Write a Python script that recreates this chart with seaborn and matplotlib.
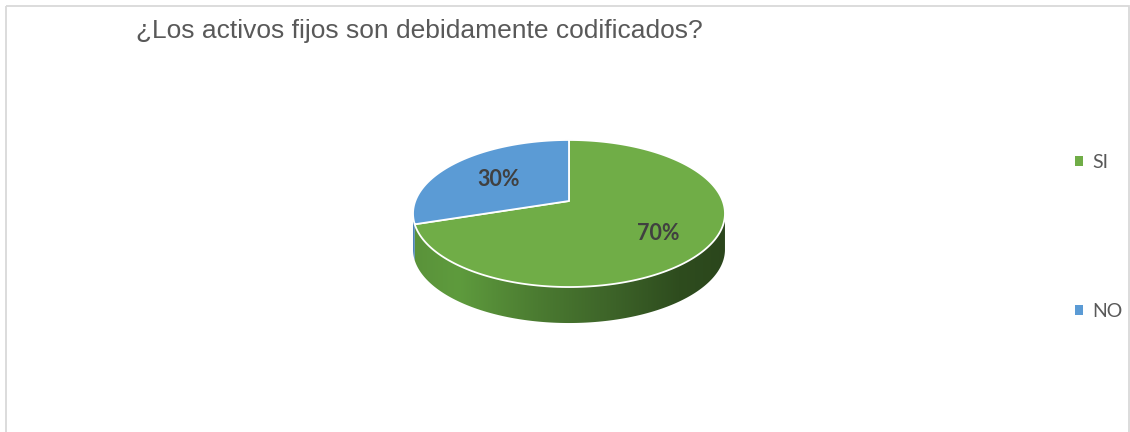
import numpy as np
import matplotlib
matplotlib.use("Agg")
import matplotlib.pyplot as plt
from matplotlib.patches import Polygon, Rectangle, Patch
from matplotlib.colors import LinearSegmentedColormap
import seaborn as sns

# ---- data ----
categories = ["SI", "NO"]
values = [70, 30]
title = "¿Los activos fijos son debidamente codificados?"

sns.set_theme(style="white")
plt.rcParams["font.family"] = ["Lato", "DejaVu Sans"]

top_colors = ["#70AD47", "#5B9BD5"]
side_cmaps = [
    LinearSegmentedColormap.from_list(
        "side_green",
        [(0.0, "#5a923a"), (0.15, "#5e9b3d"), (0.40, "#4b7b31"),
         (0.65, "#3c6228"), (0.85, "#2e4c1e"), (1.0, "#2b461c")]),
    LinearSegmentedColormap.from_list(
        "side_blue", [(0.0, "#4a82b8"), (1.0, "#2f5a85")]),
]

W, H = 1130, 432
fig = plt.figure(figsize=(W / 100, H / 100), dpi=100)
ax = fig.add_axes([0, 0, 1, 1])
ax.set_xlim(0, W)
ax.set_ylim(H, 0)
ax.axis("off")

# ---- 3-D pie geometry (perspective-projected disc) ----
CX, CY = 569, 201        # centre of the top face on screen
A, B = 153.7, 71.4       # horizontal / vertical radii
P = 0.17                 # perspective strength
DEPTH = 36               # thickness of the slab


def proj(X, Y, drop=0.0):
    w = 1 + P * Y
    return CX + A * X / w, CY - B * Y / w + drop


def arc(t0, t1, drop=0.0, n=200):
    t = np.radians(np.linspace(t0, t1, n))
    return np.column_stack(proj(np.cos(t), np.sin(t), drop))


# silhouette limits of the projected disc (left- and right-most points)
T_LEFT = 180 + np.degrees(np.arcsin(P))
T_RIGHT = 360 - np.degrees(np.arcsin(P))

total = float(sum(values))
bounds = []
start = 90.0
for v in values:
    end = start - v / total * 360.0   # clockwise from 12 o'clock
    bounds.append((end, start))
    start = end

# side walls (visible front part of the disc only)
for (lo, hi), cmap in zip(bounds, side_cmaps):
    for k in (-1, 0, 1):
        s = max(lo + 360 * k, T_LEFT)
        e = min(hi + 360 * k, T_RIGHT)
        if e <= s:
            continue
        top_edge = arc(s, e)
        bot_edge = arc(e, s, drop=DEPTH)
        poly = Polygon(np.vstack([top_edge, bot_edge]), closed=True,
                       facecolor="none", edgecolor="none")
        ax.add_patch(poly)
        grad = np.linspace(0, 1, 256).reshape(1, -1)
        im = ax.imshow(grad, cmap=cmap, aspect="auto",
                       extent=(CX - A - 4, CX + A + 4, CY + B + DEPTH + 20, CY - B - 20),
                       interpolation="bilinear", zorder=2)
        im.set_clip_path(poly)

# top faces
for (lo, hi), col in zip(bounds, top_colors):
    pts = np.vstack([[CX, CY], arc(lo, hi)])
    ax.add_patch(Polygon(pts, closed=True, facecolor=col, edgecolor="white",
                         linewidth=1.3, joinstyle="round", zorder=3))

# percentage labels
LABEL_FRAC = 0.64
for (lo, hi), v in zip(bounds, values):
    mid = np.radians((lo + hi) / 2)
    lx, ly = proj(LABEL_FRAC * np.cos(mid), LABEL_FRAC * np.sin(mid))
    ax.text(lx + 4, ly + 4, f"{v}%", ha="center", va="center", fontsize=15.5,
            fontweight="bold", color="#404040", zorder=4)

# title
ax.text(136, 38, title, fontsize=19, family=["Liberation Sans", "DejaVu Sans"],
        color="#595959", va="baseline", ha="left")

# legend
handles = [Patch(facecolor=c, edgecolor="none") for c in top_colors]
ax.legend(handles, categories, loc="upper left", bbox_to_anchor=(1075, 154),
          bbox_transform=ax.transData, frameon=False, fontsize=14,
          handlelength=0.4, handleheight=0.4, handletextpad=0.5,
          labelspacing=6.8, borderpad=0, borderaxespad=0,
          labelcolor="#595959")

# chart-area border
ax.add_patch(Rectangle((6, 6), 1123, 460, facecolor="none",
                       edgecolor="#d9d9d9", linewidth=1.3, zorder=5))

fig.savefig("out.png", dpi=100)
